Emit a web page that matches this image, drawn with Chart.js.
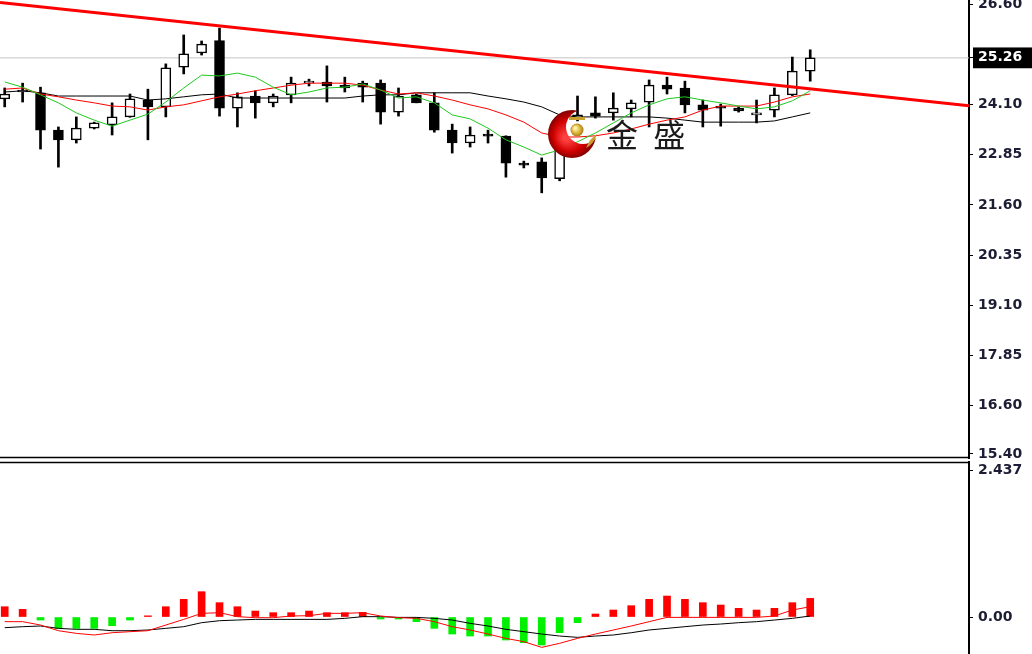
<!DOCTYPE html>
<html>
<head>
<meta charset="utf-8">
<script src="https://cdn.jsdelivr.net/npm/chart.js@4.4.0/dist/chart.umd.min.js"></script>
<style>
  html, body { margin: 0; padding: 0; background: #fff; }
  #wrap { position: relative; width: 1032px; height: 654px; overflow: hidden; }
  #priceChart { position: absolute; left: 0; top: 0; }
  #macdChart { position: absolute; left: 0; top: 460px; }
</style>
</head>
<body>
<div id="wrap">
  <canvas id="priceChart" width="1032" height="460"></canvas>
  <canvas id="macdChart" width="1032" height="194"></canvas>
</div>
<script>
// candle data (one per bar, left to right)
const opens  = [24.24, 24.41, 24.39, 23.46, 23.22, 23.51, 23.59, 23.79, 24.21, 24.04,
                25.03, 25.38, 25.69, 24.01, 24.31, 24.14, 24.34, 24.63, 24.66, 24.58,
                24.63, 24.63, 23.91, 24.34, 24.14, 23.46, 23.14, 23.36, 23.31, 22.64,
                22.67, 22.25, 23.74, 23.89, 23.89, 23.99, 24.16, 24.58, 24.51, 24.09,
                24.06, 24.01, 23.84, 23.96, 24.34, 24.93];
const highs  = [24.51, 24.63, 24.53, 23.54, 23.79, 23.66, 24.14, 24.36, 24.48, 25.11,
                25.83, 25.68, 26.00, 24.39, 24.44, 24.36, 24.78, 24.73, 25.06, 24.78,
                24.68, 24.71, 24.51, 24.36, 24.39, 23.61, 23.54, 23.46, 23.32, 22.69,
                22.77, 23.76, 24.31, 24.29, 24.39, 24.21, 24.71, 24.78, 24.68, 24.21,
                24.11, 24.04, 24.21, 24.51, 25.28, 25.46];
const lows   = [24.04, 24.16, 22.99, 22.54, 23.14, 23.49, 23.34, 23.78, 23.22, 23.79,
                24.86, 25.33, 23.81, 23.54, 23.76, 24.04, 24.14, 24.56, 24.16, 24.41,
                24.16, 23.61, 23.81, 24.14, 23.41, 22.89, 23.04, 23.14, 22.29, 22.52,
                21.90, 22.20, 23.69, 23.76, 23.71, 23.79, 23.54, 24.36, 23.89, 23.54,
                23.56, 23.91, 23.64, 23.79, 24.32, 24.68];
const closes = [24.36, 24.46, 23.46, 23.22, 23.51, 23.64, 23.79, 24.24, 24.04, 25.01,
                25.36, 25.60, 24.01, 24.29, 24.14, 24.31, 24.63, 24.68, 24.56, 24.51,
                24.53, 23.91, 24.31, 24.14, 23.46, 23.14, 23.34, 23.31, 22.64, 22.59,
                22.27, 23.71, 23.84, 23.81, 24.01, 24.14, 24.58, 24.48, 24.09, 23.96,
                24.01, 23.94, 23.89, 24.34, 24.93, 25.26];

// moving averages
const maFast = [24.66, 24.53, 24.34, 24.14, 23.89, 23.71, 23.56, 23.71, 23.86, 24.16,
                24.51, 24.83, 24.81, 24.88, 24.78, 24.53, 24.34, 24.41, 24.51, 24.53,
                24.61, 24.46, 24.26, 24.29, 24.14, 23.84, 23.74, 23.51, 23.22, 23.04,
                22.84, 22.97, 23.17, 23.39, 23.64, 23.89, 24.09, 24.24, 24.29, 24.21,
                24.14, 24.06, 23.99, 24.04, 24.19, 24.44];
const maMid  = [24.48, 24.51, 24.36, 24.29, 24.21, 24.14, 24.06, 24.04, 23.96, 24.04,
                24.09, 24.19, 24.29, 24.36, 24.44, 24.51, 24.58, 24.63, 24.63, 24.63,
                24.58, 24.46, 24.36, 24.39, 24.31, 24.21, 24.09, 23.99, 23.84, 23.66,
                23.39, 23.29, 23.29, 23.32, 23.39, 23.49, 23.61, 23.71, 23.79, 23.96,
                24.06, 24.06, 24.06, 24.16, 24.29, 24.36];
const maSlow = [24.41, 24.44, 24.39, 24.31, 24.31, 24.31, 24.31, 24.31, 24.21, 24.24,
                24.29, 24.34, 24.36, 24.26, 24.26, 24.26, 24.26, 24.26, 24.26, 24.26,
                24.31, 24.34, 24.34, 24.39, 24.39, 24.39, 24.39, 24.31, 24.24, 24.16,
                24.04, 23.84, 23.79, 23.79, 23.79, 23.79, 23.79, 23.76, 23.71, 23.66,
                23.66, 23.66, 23.66, 23.69, 23.79, 23.89];

// trend line ends and current price
const trendX = [-0.263, 53.87];
const trendY = [26.64, 24.07];
const currentPrice = 25.26;
const priceTicks = [15.40, 16.60, 17.85, 19.10, 20.35, 21.60, 22.85, 24.10, 25.26, 26.60];

// MACD panel
const macdHist   = [0.171, 0.127, -0.050, -0.188, -0.188, -0.188, -0.144, -0.050, 0.020, 0.171,
                    0.293, 0.420, 0.238, 0.171, 0.099, 0.072, 0.072, 0.099, 0.072, 0.072,
                    0.077, -0.033, -0.033, -0.077, -0.188, -0.282, -0.315, -0.315, -0.381, -0.425,
                    -0.464, -0.260, -0.094, 0.050, 0.116, 0.188, 0.293, 0.348, 0.293, 0.238,
                    0.199, 0.144, 0.116, 0.144, 0.238, 0.309];
const macdSignal = [-0.077, -0.077, -0.133, -0.227, -0.271, -0.298, -0.260, -0.243, -0.227, -0.133,
                    -0.039, 0.061, 0.072, 0.006, -0.011, -0.011, 0.017, 0.022, 0.061, 0.061,
                    0.072, 0.017, -0.011, -0.022, -0.077, -0.160, -0.215, -0.282, -0.354, -0.409,
                    -0.503, -0.436, -0.354, -0.282, -0.215, -0.149, -0.077, -0.006, -0.006, -0.006,
                    -0.006, -0.006, -0.006, 0.017, 0.116, 0.171];
const macdMain   = [-0.177, -0.160, -0.149, -0.188, -0.204, -0.204, -0.227, -0.227, -0.215, -0.188,
                    -0.160, -0.094, -0.061, -0.050, -0.039, -0.039, -0.039, -0.039, -0.039, -0.022,
                    0.006, 0.006, -0.006, -0.006, -0.022, -0.050, -0.105, -0.149, -0.204, -0.243,
                    -0.282, -0.315, -0.337, -0.315, -0.298, -0.260, -0.215, -0.188, -0.160, -0.133,
                    -0.116, -0.094, -0.077, -0.050, -0.022, 0.017];
const macdTicks = [0, 2.437];

const xMin = -0.263, xMax = 53.87;
const labelFont = { family: 'DejaVu Sans', size: 14, weight: 'bold' };
const labelColor = '#1c1c34';

const idx = opens.map((_, i) => i);
const pts = arr => idx.map(i => ({ x: i, y: arr[i] }));

// frame line along the panel edge
const framePlugin = {
    id: 'frame',
    afterDraw(chart, args, opts) {
        const { ctx, chartArea } = chart;
        const y = opts.edge === 'bottom' ? chartArea.bottom - 0.5 : chartArea.top + 0.5;
        ctx.save();
        ctx.strokeStyle = '#000';
        ctx.lineWidth = 1.3;
        ctx.beginPath();
        ctx.moveTo(chartArea.left, y);
        ctx.lineTo(chartArea.right, y);
        ctx.stroke();
        ctx.restore();
    }
};

// watermark logo
const logoPlugin = {
    id: 'logo',
    afterDatasetsDraw(chart) {
        const ctx = chart.ctx;
        ctx.save();
        ctx.beginPath();
        ctx.rect(0, 0, chart.width, chart.height);
        ctx.arc(583, 127, 17, 0, Math.PI * 2, true);
        ctx.clip('evenodd');
        const g = ctx.createRadialGradient(566, 138, 3, 572, 134, 25);
        g.addColorStop(0, '#ff4040');
        g.addColorStop(0.6, '#d00000');
        g.addColorStop(1, '#7a0000');
        ctx.fillStyle = g;
        ctx.beginPath();
        ctx.arc(572, 134, 24, 0, Math.PI * 2);
        ctx.fill();
        ctx.restore();

        ctx.save();
        const gb = ctx.createRadialGradient(575, 128, 1, 577, 130, 7);
        gb.addColorStop(0, '#fff2b0');
        gb.addColorStop(0.5, '#e0b840');
        gb.addColorStop(1, '#9a7410');
        ctx.fillStyle = gb;
        ctx.beginPath();
        ctx.arc(577, 130, 6.5, 0, Math.PI * 2);
        ctx.fill();
        ctx.fillStyle = '#c9a030';
        ctx.fillRect(569, 117, 16, 3);
        ctx.beginPath();
        ctx.moveTo(586, 148);
        ctx.quadraticCurveTo(590, 138, 597, 134);
        ctx.quadraticCurveTo(594, 144, 586, 148);
        ctx.fill();

        ctx.fillStyle = '#1a1a1a';
        ctx.font = '32px "Noto Sans CJK SC"';
        ctx.textBaseline = 'middle';
        ctx.letterSpacing = '4px';
        ctx.fillText('金 盛', 606, 135);
        ctx.restore();
    }
};

function rightAxis(min, max, tickVals, fmt) {
    return {
        position: 'right',
        min: min,
        max: max,
        afterFit(s) { s.width = 63; s.paddingTop = 0; s.paddingBottom = 0; },
        afterBuildTicks(s) { s.ticks = tickVals.map(v => ({ value: v })); },
        border: { display: true, color: '#000', width: 2 },
        grid: { display: true, drawOnChartArea: false, drawTicks: true, tickLength: 4, color: '#000', lineWidth: 1 },
        ticks: {
            autoSkip: false,
            padding: 5,
            font: labelFont,
            color: labelColor,
            callback: fmt
        }
    };
}

const priceAxis = rightAxis(15.30, 26.70, priceTicks, v => v.toFixed(2));
priceAxis.ticks.color = c => c.tick && c.tick.value === currentPrice ? '#ffffff' : labelColor;
priceAxis.ticks.showLabelBackdrop = c => !!(c.tick && c.tick.value === currentPrice);
priceAxis.ticks.backdropColor = '#000000';
priceAxis.ticks.backdropPadding = { left: 5, right: 12, top: 2, bottom: 2 };

new Chart(document.getElementById('priceChart'), {
    type: 'bar',
    data: {
        datasets: [
            {
                type: 'line', data: [{ x: trendX[0], y: trendY[0] }, { x: trendX[1], y: trendY[1] }],
                borderColor: '#ff0000', borderWidth: 3, pointRadius: 0, order: 0
            },
            { type: 'line', data: pts(maFast), borderColor: '#1ec81e', borderWidth: 1, pointRadius: 0, order: 1 },
            { type: 'line', data: pts(maMid), borderColor: '#ff0000', borderWidth: 1, pointRadius: 0, order: 1 },
            { type: 'line', data: pts(maSlow), borderColor: '#000000', borderWidth: 1, pointRadius: 0, order: 1 },
            {
                data: idx.map(i => ({ x: i, y: [Math.min(opens[i], closes[i]), Math.max(opens[i], closes[i])] })),
                backgroundColor: idx.map(i => closes[i] >= opens[i] ? '#ffffff' : '#000000'),
                borderColor: '#000000', borderWidth: 1.5, borderSkipped: false,
                barThickness: 10, grouped: false, order: 2
            },
            {
                data: idx.map(i => ({ x: i, y: [lows[i], highs[i]] })),
                backgroundColor: '#000000', borderWidth: 0,
                barThickness: 2, grouped: false, order: 3
            },
            {
                type: 'line', data: [{ x: xMin, y: currentPrice }, { x: xMax, y: currentPrice }],
                borderColor: '#c4c4c4', borderWidth: 1, pointRadius: 0, order: 4
            }
        ]
    },
    options: {
        responsive: false,
        animation: false,
        layout: { padding: { top: 0, bottom: 2, left: 0, right: 0 } },
        plugins: {
            legend: { display: false },
            tooltip: { enabled: false },
            frame: { edge: 'bottom' }
        },
        scales: {
            x: { type: 'linear', min: xMin, max: xMax, offset: false, display: false },
            y: priceAxis
        }
    },
    plugins: [framePlugin, logoPlugin]
});

new Chart(document.getElementById('macdChart'), {
    type: 'bar',
    data: {
        datasets: [
            { type: 'line', data: pts(macdSignal), borderColor: '#ff0000', borderWidth: 1, pointRadius: 0, order: 0 },
            { type: 'line', data: pts(macdMain), borderColor: '#000000', borderWidth: 1, pointRadius: 0, order: 1 },
            {
                data: pts(macdHist),
                backgroundColor: macdHist.map(v => v >= 0 ? '#ff0000' : '#00f000'),
                barThickness: 7, grouped: false, order: 2
            }
        ]
    },
    options: {
        responsive: false,
        animation: false,
        layout: { padding: { top: 2, bottom: 0, left: 0, right: 0 } },
        plugins: {
            legend: { display: false },
            tooltip: { enabled: false },
            frame: { edge: 'top' }
        },
        scales: {
            x: { type: 'linear', min: xMin, max: xMax, offset: false, display: false },
            y: rightAxis(-0.613, 2.570, macdTicks, v => v === 0 ? '0.00' : v.toFixed(3))
        }
    },
    plugins: [framePlugin]
});
</script>
</body>
</html>
